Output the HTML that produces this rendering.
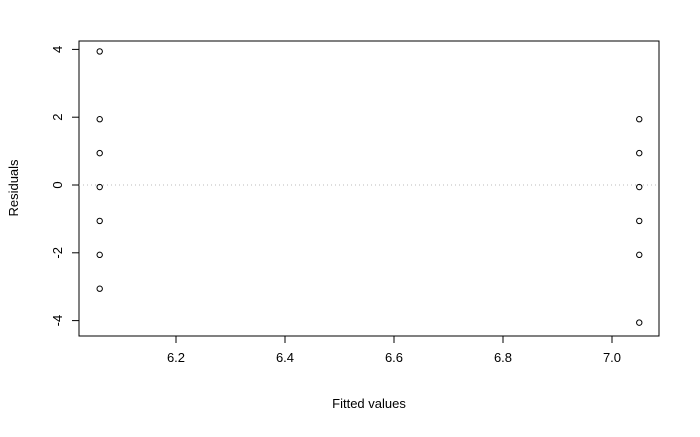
<!DOCTYPE html>
<html><head><meta charset="utf-8"><style>
body{margin:0;background:#fff}
svg text{font-family:"Liberation Sans",Arial,sans-serif;font-size:13px;fill:#000}
</style></head><body>
<svg width="700" height="432" id="chart">
</svg>
<script>
const fittedValues=[6.06,6.06,6.06,6.06,6.06,6.06,6.06,7.05,7.05,7.05,7.05,7.05,7.05];
const residualValues=[3.94,1.94,0.94,-0.06,-1.06,-2.06,-3.06,1.94,0.94,-0.06,-1.06,-2.06,-4.06];
const xTicks=[6.2,6.4,6.6,6.8,7.0];
const xTickLabels=["6.2","6.4","6.6","6.8","7.0"];
const yTicks=[-4,-2,0,2,4];
const yTickLabels=["-4","-2","0","2","4"];
const svg=document.getElementById('chart');
const NS='http://www.w3.org/2000/svg';
const L=79,R=659,T=41,B=336;
const x=v=>176+(v-6.2)*545;
const y=v=>185-v*33.9;
function mk(tag,attrs,parent){const e=document.createElementNS(NS,tag);for(const k in attrs)e.setAttribute(k,attrs[k]);(parent||svg).appendChild(e);return e;}
let box=mk('rect',{x:L,y:T,width:R-L,height:B-T,fill:'none',stroke:'#000','stroke-width':1});


let zl=mk('line',{x1:L,x2:R,y1:y(0),y2:y(0),stroke:'#bbb','stroke-dasharray':'1,3'});


xTicks.forEach((t,i)=>{
 let g=mk('g',{});
 
 
 mk('line',{x1:x(t),x2:x(t),y1:B,y2:B+7,stroke:'#000'},g);
 let tx=mk('text',{x:x(t),y:B+26,'text-anchor':'middle'},g);tx.textContent=xTickLabels[i];
});
yTicks.forEach((t,i)=>{
 let g=mk('g',{});
 
 
 mk('line',{x1:L-7,x2:L,y1:y(t),y2:y(t),stroke:'#000'},g);
 let tx=mk('text',{x:0,y:0,'text-anchor':'middle',transform:`translate(${L-17},${y(t)}) rotate(-90)`},g);tx.textContent=yTickLabels[i];
});
fittedValues.forEach((f,i)=>{
 let c=mk('circle',{cx:x(f),cy:y(residualValues[i]),r:2.7,fill:'none',stroke:'#000','stroke-width':1});
 
 
});
let xt=mk('text',{x:369,y:408,'text-anchor':'middle'});xt.textContent='Fitted values';


let yt=mk('text',{x:0,y:0,'text-anchor':'middle',transform:'translate(18,188) rotate(-90)'});yt.textContent='Residuals';


</script>
</body></html>
